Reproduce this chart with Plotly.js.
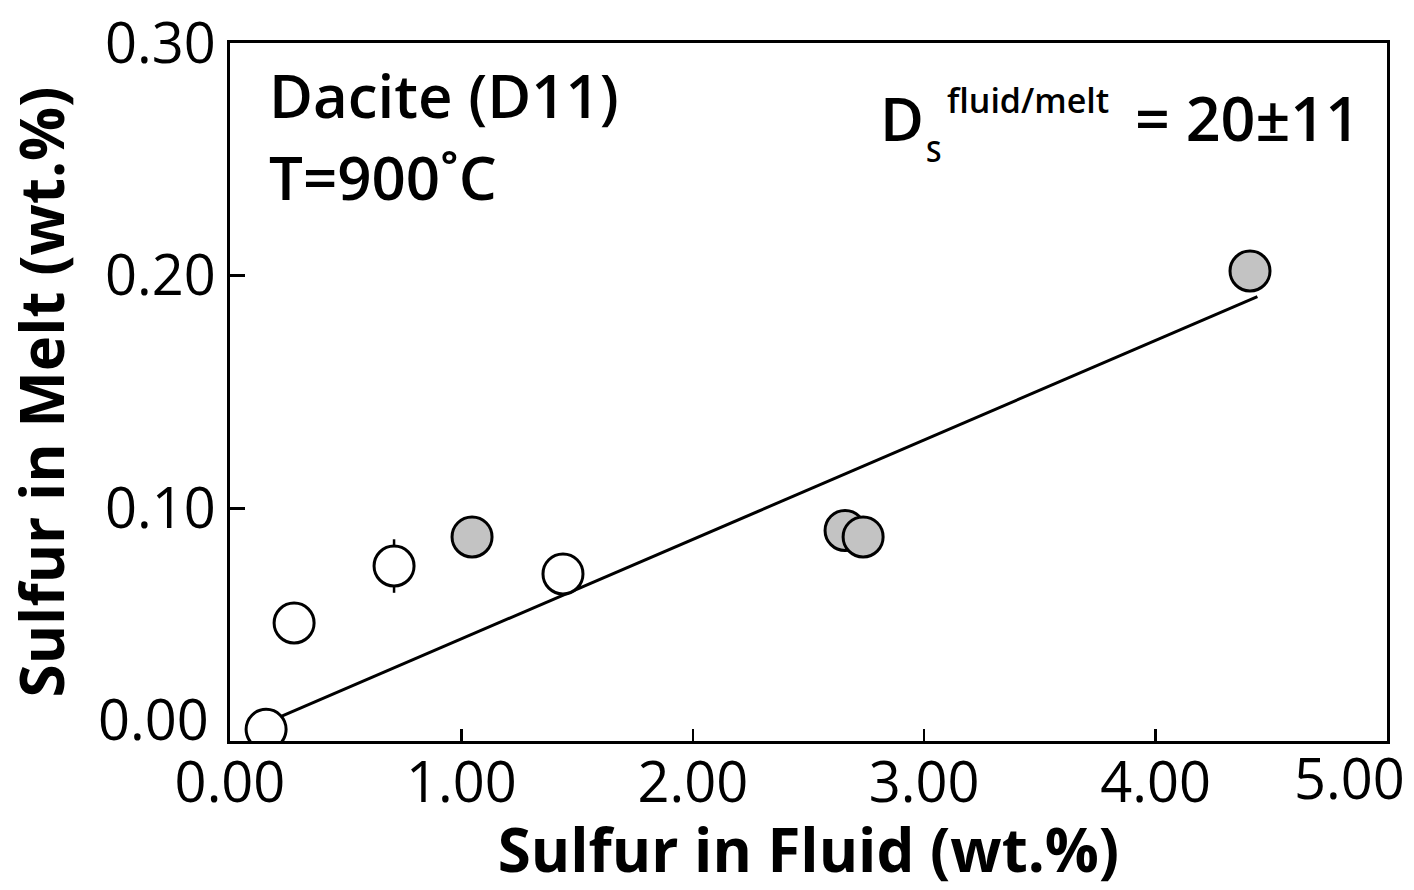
<!DOCTYPE html>
<html>
<head>
<meta charset="utf-8">
<script src="https://cdn.plot.ly/plotly-3.0.1.min.js"></script>
<style>html,body{margin:0;padding:0;background:#fff;}#chart{width:1414px;height:890px;}</style>
</head>
<body>
<div id="chart"></div>
<script>
// Open symbols (white)
const openX = [0.156, 0.277, 0.709, 1.439];
const openY = [0.005, 0.0507, 0.0752, 0.0718];
const openErr = [0, 0, 0.0115, 0];
// Filled symbols (grey)
const greyX = [1.046, 2.658, 2.736, 4.408];
const greyY = [0.0877, 0.0905, 0.0877, 0.202];
// Fit line endpoints
const fitX = [0.156, 4.44];
const fitY = [0.0078, 0.191];
// Tick labels
const xTicks = [0, 1, 2, 3, 4, 5];
const xTickText = ["0.00", "1.00", "2.00", "3.00", "4.00", "5.00"];
const yTicks = [0, 0.1, 0.2, 0.3];
const yTickText = ["0.00", "0.10", "0.20", "0.30"];

const FONT = "Open Sans, Noto Sans, sans-serif";
const TICKSIZE = 56;

// the end labels are nudged inward (as in the reference), so they are drawn as annotations
const xTickShown = xTickText.map((t, i) => i === xTickText.length - 1 ? "" : t);
const yTickShown = yTickText.map((t, i) => i === 0 ? "" : t);

const traces = [
  {x: fitX, y: fitY, mode: "lines", line: {color: "#000", width: 3}, hoverinfo: "skip", showlegend: false},
  {x: openX, y: openY, mode: "markers",
   error_y: {type: "data", array: openErr, visible: true, color: "#000", thickness: 2.5, width: 0},
   marker: {size: 40, color: "#ffffff", line: {color: "#000", width: 3}}, showlegend: false},
  {x: greyX, y: greyY, mode: "markers",
   marker: {size: 40, color: "#c3c3c3", line: {color: "#000", width: 3}}, showlegend: false}
];

const textFont = (s, w) => ({size: s, family: FONT, color: "#000", weight: w || 600});

const layout = {
  width: 1414, height: 890,
  paper_bgcolor: "#fff", plot_bgcolor: "#fff",
  margin: {l: 230, r: 27, t: 43, b: 149},
  font: {family: FONT, color: "#000"},
  showlegend: false,
  xaxis: {
    range: [0, 5], tickvals: xTicks, ticktext: xTickShown,
    ticks: "inside", ticklen: 12, tickwidth: 2.5, tickcolor: "#000",
    ticklabelstandoff: -9,
    showline: true, linecolor: "#000", linewidth: 3, mirror: true,
    showgrid: false, zeroline: false,
    tickfont: {size: TICKSIZE, family: FONT, color: "#000"},
    title: {text: "<b>Sulfur in Fluid (wt.%)</b>", font: {size: 60, family: FONT, color: "#000"}, standoff: 8}
  },
  yaxis: {
    range: [0, 0.3], tickvals: yTicks, ticktext: yTickShown,
    ticks: "inside", ticklen: 15, tickwidth: 2.5, tickcolor: "#000",
    showline: true, linecolor: "#000", linewidth: 3, mirror: true,
    showgrid: false, zeroline: false,
    tickfont: {size: TICKSIZE, family: FONT, color: "#000"},
    title: {text: "<b>Sulfur in Melt (wt.%)</b>", font: {size: 60, family: FONT, color: "#000"}, standoff: 24}
  },
  annotations: [
    // nudged end tick labels
    {xref: "x", yref: "paper", x: 5, y: 0, xanchor: "right", yanchor: "top", xshift: 20, yshift: 4,
     showarrow: false, text: xTickText[xTickText.length - 1], font: {size: TICKSIZE, family: FONT, color: "#000"}},
    {xref: "paper", yref: "y", x: 0, y: 0, xanchor: "right", yanchor: "bottom", xshift: -19, yshift: -17,
     showarrow: false, text: yTickText[0], font: {size: TICKSIZE, family: FONT, color: "#000"}},
    // labels
    {xref: "paper", yref: "paper", x: 0.032, y: 0.925, xanchor: "left", yanchor: "middle", showarrow: false,
     text: "Dacite (D11)", font: textFont(60)},
    {xref: "paper", yref: "paper", x: 0.032, y: 0.808, xanchor: "left", yanchor: "middle", showarrow: false,
     text: "T=900˚C", font: textFont(60)},
    {xref: "paper", yref: "paper", x: 0.560, y: 0.893, xanchor: "left", yanchor: "middle", showarrow: false,
     text: "D", font: textFont(60)},
    {xref: "paper", yref: "paper", x: 0.600, y: 0.845, xanchor: "left", yanchor: "middle", showarrow: false,
     text: "S", font: textFont(28)},
    {xref: "paper", yref: "paper", x: 0.618, y: 0.918, xanchor: "left", yanchor: "middle", showarrow: false,
     text: "fluid/melt", font: textFont(34)},
    {xref: "paper", yref: "paper", x: 0.978, y: 0.893, xanchor: "right", yanchor: "middle", showarrow: false,
     text: "= 20±11", font: textFont(61)}
  ]
};

Plotly.newPlot("chart", traces, layout, {displayModeBar: false, staticPlot: true});
</script>
</body>
</html>
